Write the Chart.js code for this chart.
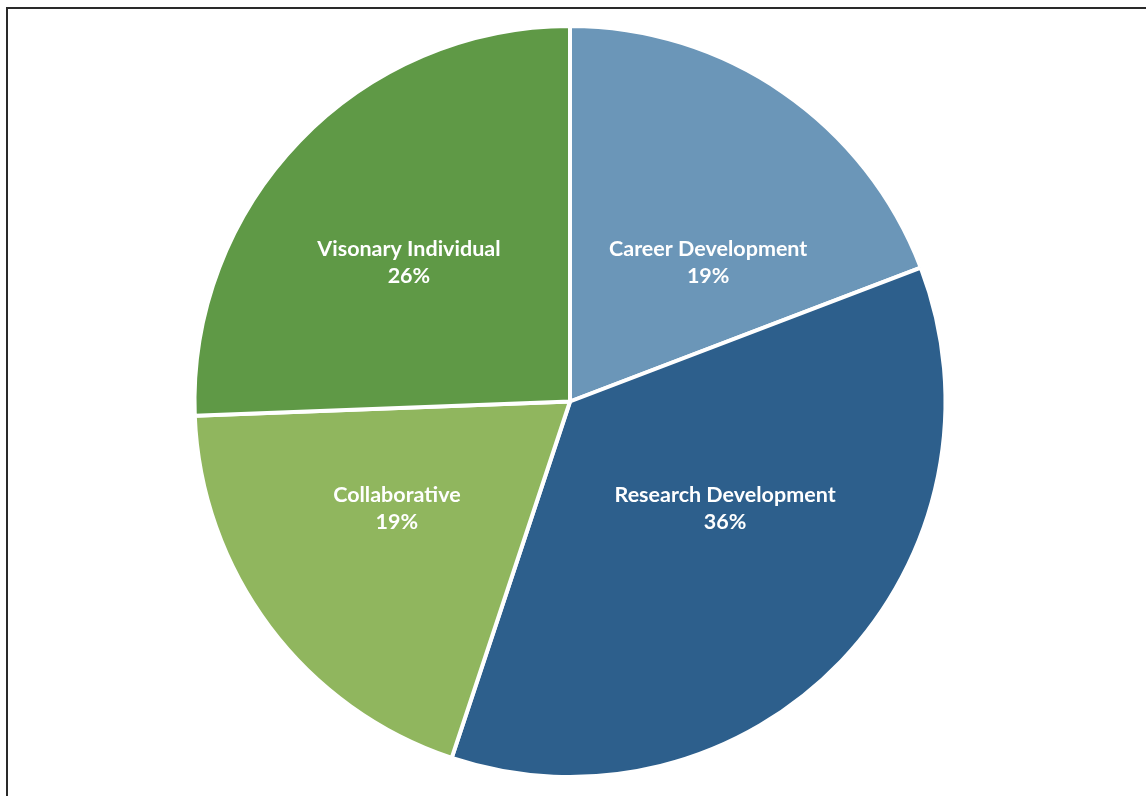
<!DOCTYPE html>
<html>
<head>
<meta charset="utf-8">
<script src="https://cdn.jsdelivr.net/npm/chart.js@4/dist/chart.umd.min.js"></script>
<style>
  body { margin: 0; background: #fff; }
  #frame { position: absolute; left: 6px; top: 7px; width: 1160px; height: 800px;
           border-top: 2px solid #2a2a2a; border-left: 2px solid #2a2a2a; }
  canvas { position: absolute; left: 0; top: 0; }
</style>
</head>
<body>
<div id="frame"></div>
<canvas id="pieChart" width="1146" height="796"></canvas>
<script>
// Parts of the pie, clockwise from 12 o'clock (labels show rounded %)
const categorias = ['Career Development', 'Research Development', 'Collaborative', 'Visonary Individual'];
const percentuais = [19.2, 35.9, 19.3, 25.6];
const cores = ['#6b96b8', '#2d5f8c', '#90b65e', '#5f9946'];

// where each label sits, as a fraction of the radius from the centre
const posRotulos = [[0.368, -0.371], [0.413, 0.285], [-0.461, 0.285], [-0.429, -0.371]];

const rotulosPlugin = {
  id: 'rotulos',
  afterDatasetsDraw(chart) {
    const ctx = chart.ctx;
    const arcs = chart.getDatasetMeta(0).data;
    ctx.save();
    ctx.fillStyle = '#ffffff';
    ctx.font = 'bold 21.5px Lato, "Open Sans", sans-serif';
    ctx.textAlign = 'center';
    ctx.textBaseline = 'middle';
    arcs.forEach((arc, i) => {
      const x = arc.x + posRotulos[i][0] * arc.outerRadius;
      const y = arc.y + posRotulos[i][1] * arc.outerRadius;
      ctx.fillText(categorias[i], x, y - 13);
      ctx.fillText(Math.round(percentuais[i]) + '%', x, y + 14);
    });
    ctx.restore();
  }
};

const pieCtx = document.getElementById('pieChart').getContext('2d');
const pieChart = new Chart(pieCtx, {
  type: 'pie',
  data: {
    labels: categorias,
    datasets: [{
      data: percentuais,
      backgroundColor: cores,
      borderColor: '#ffffff',
      borderWidth: 4
    }]
  },
  options: {
    responsive: false,
    animation: false,
    layout: { padding: { top: 24, bottom: 17, left: 0, right: 6 } },
    plugins: {
      legend: { display: false },
      tooltip: { enabled: false }
    }
  },
  plugins: [rotulosPlugin]
});
</script>
</body>
</html>
